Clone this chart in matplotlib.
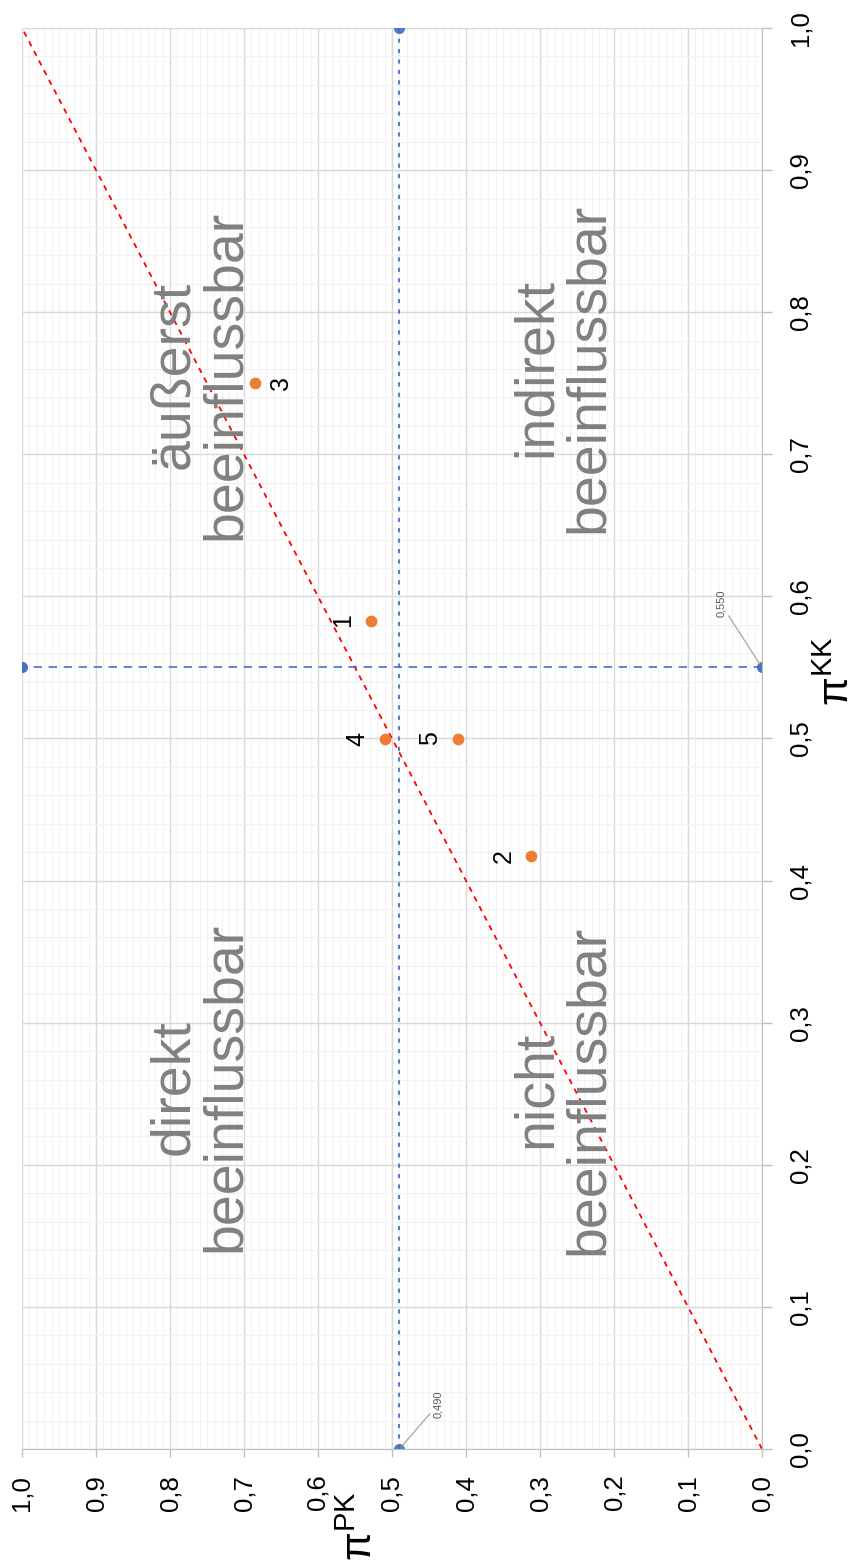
from matplotlib import pyplot as plt
from matplotlib.ticker import MultipleLocator, FuncFormatter
import numpy as np

# values (pi^KK, pi^PK per item)
labels = ['1', '2', '3', '4', '5']
pi_kk = [0.583, 0.417, 0.750, 0.500, 0.500]
pi_pk = [0.528, 0.312, 0.685, 0.509, 0.411]

# thresholds
kk_limit = 0.55
pk_limit = 0.49

regions = ['äußerst\nbeeinflussbar', 'indirekt\nbeeinflussbar',
           'direkt\nbeeinflussbar', 'nicht\nbeeinflussbar']
region_kk = [0.756, 0.761, 0.255, 0.253]
region_pk = [0.759, 0.269, 0.759, 0.269]

plt.rcParams['font.family'] = ['Liberation Sans', 'DejaVu Sans']
plt.rcParams['mathtext.fontset'] = 'custom'
plt.rcParams['mathtext.rm'] = 'Liberation Sans'
plt.rcParams['mathtext.it'] = 'Liberation Sans:italic'

fig = plt.figure(figsize=(8.61, 15.62), dpi=100)
# the chart is shown rotated: horizontal = pi^PK (reversed), vertical = pi^KK
ax = fig.add_axes([22/861, 1 - 1449/1562, 740/861, 1421/1562])
ax.set_xlim(1, 0)
ax.set_ylim(0, 1)

ax.xaxis.set_major_locator(MultipleLocator(0.1))
ax.xaxis.set_minor_locator(MultipleLocator(0.01))
ax.yaxis.set_major_locator(MultipleLocator(0.1))
ax.yaxis.set_minor_locator(MultipleLocator(0.02))
ax.grid(which='major', color='#D9D9D9', lw=1.0)
ax.grid(which='minor', color='#F2F2F2', lw=0.8)
ax.set_axisbelow(True)

fmt = FuncFormatter(lambda v, p: f'{v:.1f}'.replace('.', ','))
ax.xaxis.set_major_formatter(fmt)
ax.yaxis.set_major_formatter(fmt)
ax.yaxis.tick_right()
ax.tick_params(which='major', color='#BFBFBF', width=1,
               labelsize=18.5, labelrotation=90)
ax.tick_params(axis='x', which='major', length=5.5, pad=13)
ax.tick_params(axis='y', which='major', length=7, pad=12)
ax.tick_params(which='minor', length=0)
for lab in ax.get_yticklabels():
    lab.set_va('center')
for s in ['top', 'left']:
    ax.spines[s].set_visible(False)
for s in ['bottom', 'right']:
    ax.spines[s].set_color('#BFBFBF')

# diagonal
ax.plot([0, 1], [0, 1], color='#FF0000', ls=(0, (3, 3)), lw=1.3)
# thresholds
ax.plot([pk_limit, pk_limit], [0, 1], color='#4472C4', ls=(0, (2, 3)), lw=1.5,
        marker='o', ms=7, alpha=0.9)
ax.plot([0, 1], [kk_limit, kk_limit], color='#4472C4', ls=(0, (5, 4)), lw=1.2,
        marker='o', ms=7)

ax.annotate('0,490', xy=(pk_limit, 0), xytext=(24, 22), textcoords='offset points',
            rotation=90, fontsize=8, color='#595959', ha='left', va='bottom',
            arrowprops=dict(arrowstyle='-', color='#A6A6A6', lw=0.9, shrinkA=0, shrinkB=3))
ax.annotate('0,550', xy=(0, kk_limit), xytext=(-26, 36), textcoords='offset points',
            rotation=90, fontsize=8, color='#595959', ha='right', va='bottom',
            arrowprops=dict(arrowstyle='-', color='#A6A6A6', lw=0.9, shrinkA=0, shrinkB=3))

# items
ax.scatter(pi_pk, pi_kk, s=55, color='#ED7D31', zorder=5)
for lab, x, y in zip(labels, pi_pk, pi_kk):
    dx = 19 if lab == '3' else -20
    ax.annotate(lab, (x, y), xytext=(dx, 0), textcoords='offset points',
                rotation=90, fontsize=18, ha='center', va='center')

for txt, x, y in zip(regions, region_pk, region_kk):
    ax.text(x, y, txt, rotation=90, fontsize=40, color='#808080',
            ha='center', va='center', multialignment='center', linespacing=1.0)

# axis titles
fig.text(361/861, 1 - 1526/1562, r'$\mathrm{\pi}^{\mathrm{PK}}$', rotation=90,
         fontsize=30, ha='center', va='center')
fig.text(838/861, 1 - 671/1562, r'$\mathrm{\pi}^{\mathrm{KK}}$', rotation=90,
         fontsize=30, ha='center', va='center')

plt.savefig('out.png', dpi=100)
